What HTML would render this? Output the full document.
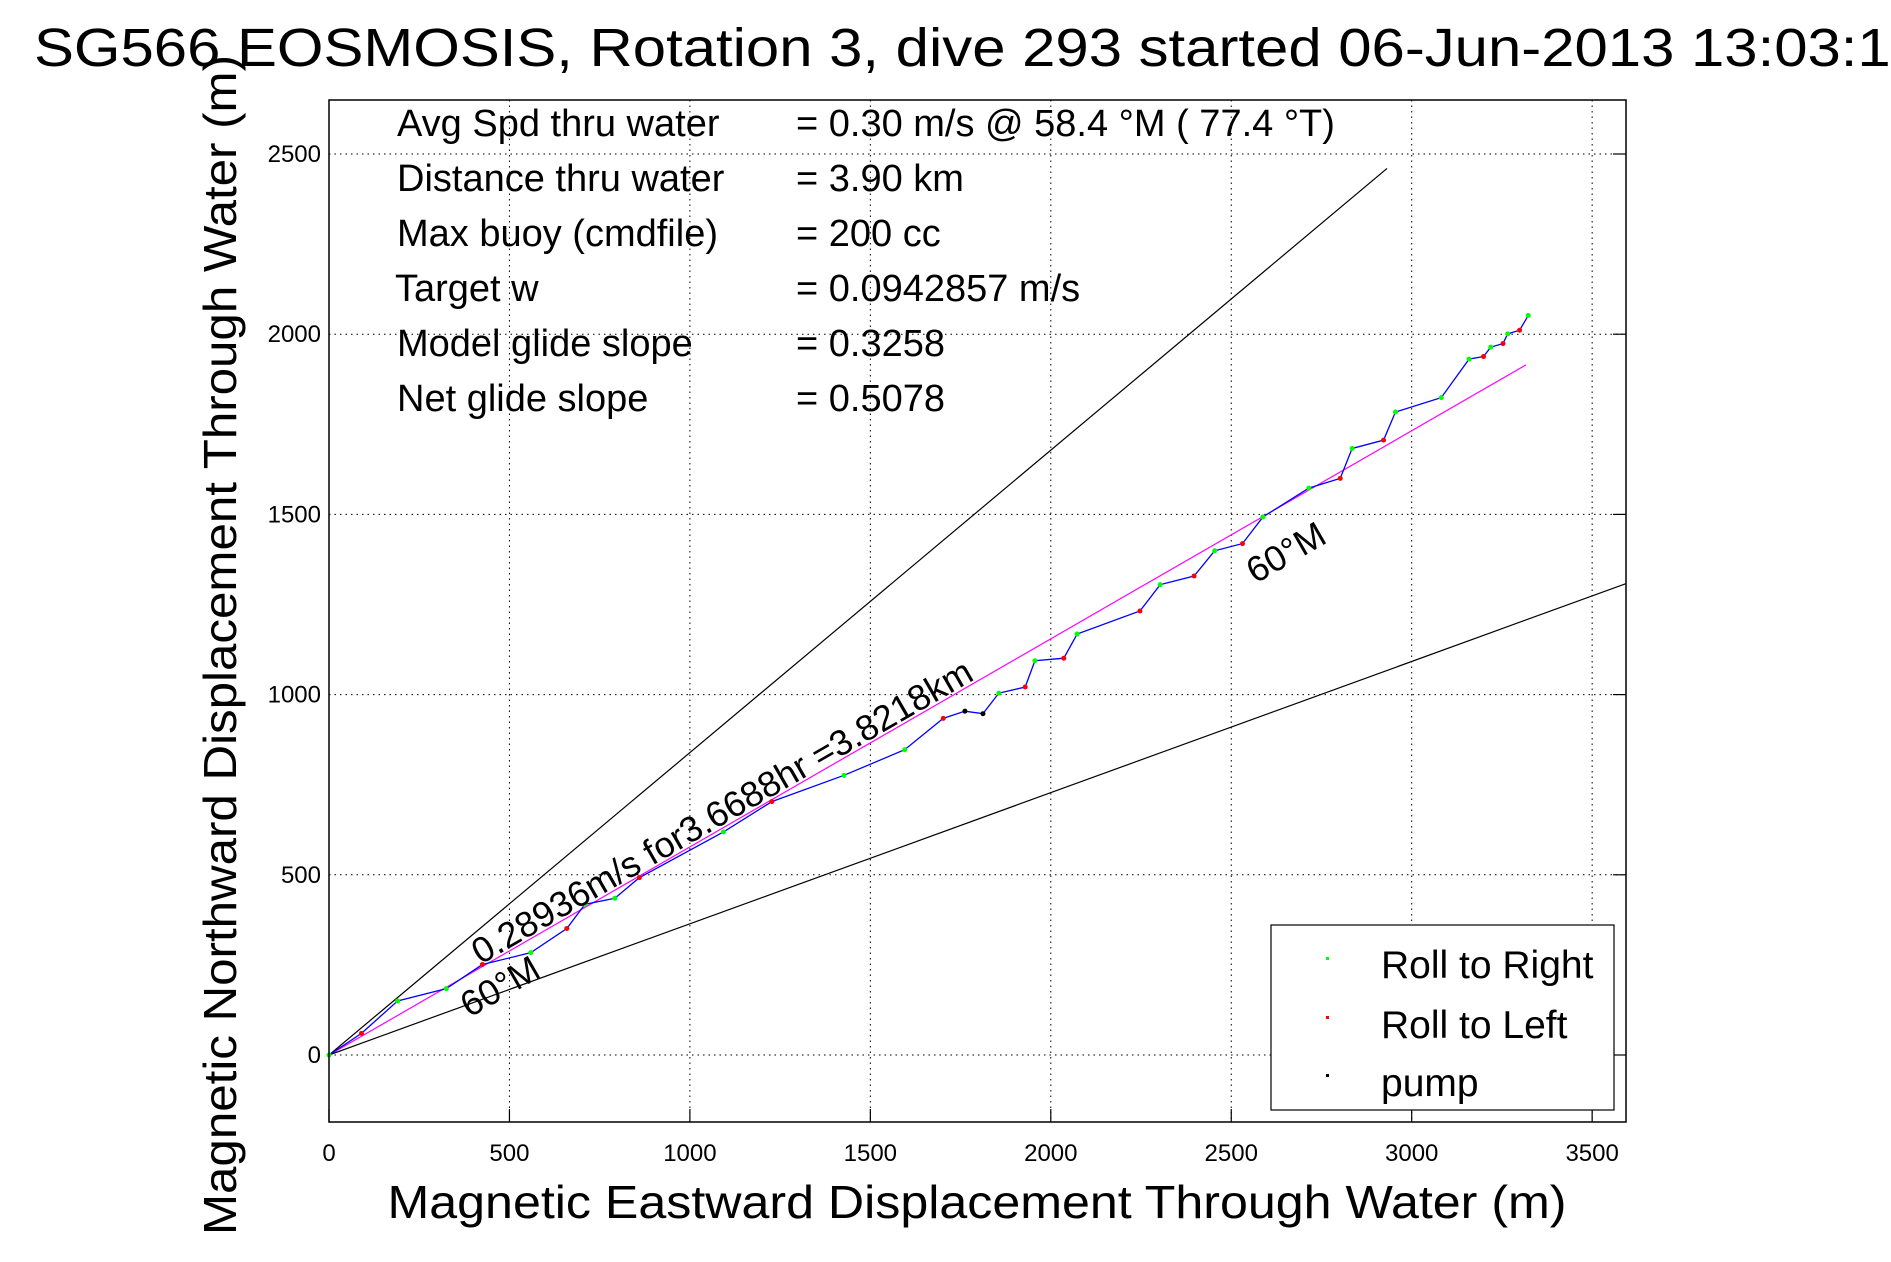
<!DOCTYPE html>
<html><head><meta charset="utf-8"><style>
html,body{margin:0;padding:0;background:#fff;}
svg{display:block;font-family:"Liberation Sans",sans-serif;}
</style></head><body>
<svg id="chart" width="1891" height="1262" viewBox="0 0 1891 1262" xmlns="http://www.w3.org/2000/svg">
<rect width="1891" height="1262" fill="#fff"/>
<text x="34" y="66" font-size="54" textLength="1890" lengthAdjust="spacingAndGlyphs">SG566 EOSMOSIS, Rotation 3, dive 293 started 06-Jun-2013 13:03:17</text>
<g id="grid"></g>
<g id="lines"></g>
<g id="series"></g>
<rect x="329" y="100" width="1297" height="1022" fill="none" stroke="#000" stroke-width="1.5"/>
<g id="ticks"></g>
<g font-size="38">
<text x="397" y="136">Avg Spd thru water</text><text x="796" y="136">=  0.30 m/s @  58.4 °M ( 77.4 °T)</text>
<text x="397" y="191">Distance thru water</text><text x="796" y="191">=  3.90 km</text>
<text x="397" y="246">Max buoy (cmdfile)</text><text x="796" y="246">= 200 cc</text>
<text x="395" y="301">Target w</text><text x="796" y="301">= 0.0942857 m/s</text>
<text x="397" y="356">Model glide slope</text><text x="796" y="356">= 0.3258</text>
<text x="397" y="411">Net glide slope</text><text x="796" y="411">= 0.5078</text>
</g>
<text font-size="36" transform="translate(728,822) rotate(-30)" text-anchor="middle">0.28936m/s for3.6688hr =3.8218km</text>
<text font-size="36" transform="translate(506,997) rotate(-30)" text-anchor="middle">60°M</text>
<text font-size="36" transform="translate(1292,563) rotate(-30)" text-anchor="middle">60°M</text>
<g>
<rect x="1271" y="925" width="343" height="185" fill="#fff" stroke="#000" stroke-width="1.2"/>
<rect x="1326" y="957" width="3" height="3" fill="#00ff00"/>
<text x="1381" y="978" font-size="39">Roll to Right</text>
<rect x="1326" y="1016" width="3" height="3" fill="#ff0000"/>
<text x="1381" y="1038" font-size="39">Roll to Left</text>
<rect x="1326" y="1074" width="3" height="3" fill="#000"/>
<text x="1381" y="1096" font-size="39">pump</text>
</g>
<text x="977" y="1218" font-size="46" text-anchor="middle" textLength="1179" lengthAdjust="spacingAndGlyphs">Magnetic Eastward Displacement Through Water (m)</text>
<text transform="translate(236,645) rotate(-90)" font-size="46" text-anchor="middle" textLength="1180" lengthAdjust="spacingAndGlyphs">Magnetic Northward Displacement Through Water (m)</text>
</svg>
<script>
const xTicks=[0,500,1000,1500,2000,2500,3000,3500];
const yTicks=[0,500,1000,1500,2000,2500];
const trackX=[0,90,190,325,425,559,659,709,792,860,1093,1227,1427,1595,1702,1762,1812,1856,1929,1956,2036,2073,2247,2303,2397,2454,2531,2588,2715,2802,2835,2922,2955,3082,3159,3199,3219,3253,3266,3299,3323];
const trackY=[0,60,150,184,251,284,351,418,435,492,619,703,776,847,934,954,947,1004,1021,1094,1101,1168,1232,1305,1329,1399,1419,1493,1573,1600,1683,1706,1784,1824,1931,1938,1964,1974,2001,2011,2052];
const markerType=["g","r","g","g","r","g","r","g","g","r","g","r","g","g","r","k","k","g","r","g","r","g","r","g","r","g","r","g","g","r","g","r","g","g","g","r","g","r","g","r","g"];
const headingDeg=[50,60,70];
const lineLength=[3827,3830,4200];
const X0=329,XS=0.3609,Y0=1055,YS=0.3604;
const sx=v=>X0+v*XS, sy=v=>Y0-v*YS;
const NS="http://www.w3.org/2000/svg";
function mk(tag,attrs,parent){const e=document.createElementNS(NS,tag);for(const k in attrs)e.setAttribute(k,attrs[k]);parent.appendChild(e);return e;}
const grid=document.getElementById('grid'),ticks=document.getElementById('ticks');
xTicks.forEach(t=>{
 const l=mk('line',{x1:sx(t),x2:sx(t),y1:100,y2:1122,stroke:'#000','stroke-width':1,'stroke-dasharray':'1.5,4'},grid);
 
 
 const tk=mk('line',{x1:sx(t),x2:sx(t),y1:1122,y2:1109,stroke:'#000','stroke-width':1.2},ticks);
 
 
 const tx=mk('text',{x:sx(t),y:1161,'font-size':24,'text-anchor':'middle'},ticks);tx.textContent=t;
 
 
});
yTicks.forEach(t=>{
 const l=mk('line',{x1:329,x2:1626,y1:sy(t),y2:sy(t),stroke:'#000','stroke-width':1,'stroke-dasharray':'1.5,4'},grid);
 
 
 const tk=mk('line',{x1:1626,x2:1613,y1:sy(t),y2:sy(t),stroke:'#000','stroke-width':1.2},ticks);
 
 
 const tx=mk('text',{x:321,y:sy(t)+8,'font-size':24,'text-anchor':'end'},ticks);tx.textContent=t;
 
 
});
const lines=document.getElementById('lines');
const cp=mk('clipPath',{id:'clip'},lines);mk('rect',{x:329,y:100,width:1297,height:1022},cp);
headingDeg.forEach((h,i)=>{
 const r=h*Math.PI/180,L=lineLength[i];
 const l=mk('line',{x1:sx(0),y1:sy(0),x2:sx(L*Math.sin(r)),y2:sy(L*Math.cos(r)),stroke:i==1?'#ff00ff':'#000','stroke-width':1.2,'clip-path':'url(#clip)'},lines);
 
 
});
const series=document.getElementById('series');
const p=mk('polyline',{points:trackX.map((x,i)=>sx(x)+','+sy(trackY[i])).join(' '),fill:'none',stroke:'#0000ff','stroke-width':1.3},series);


const col={g:'#00ff00',r:'#ff0000',k:'#000'};
trackX.forEach((x,i)=>{
 const c=mk('circle',{cx:sx(x),cy:sy(trackY[i]),r:2.5,fill:col[markerType[i]]},series);
 
 
});
</script>
</body></html>
